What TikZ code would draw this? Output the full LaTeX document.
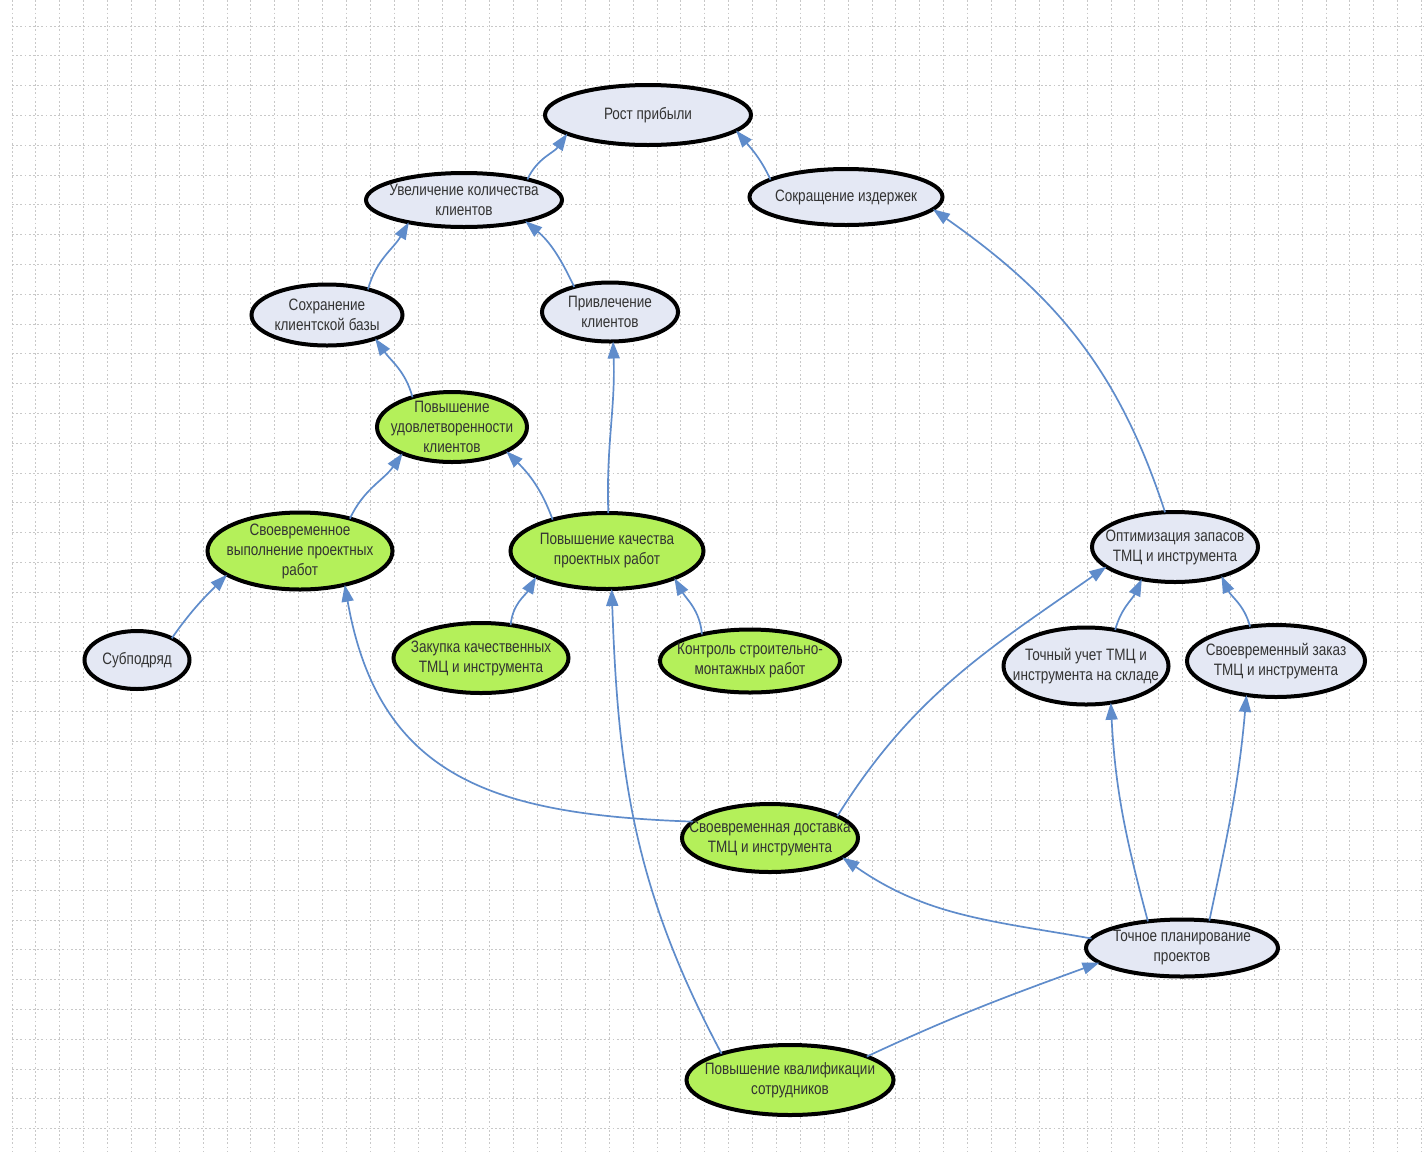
\documentclass[tikz,border=0pt]{standalone}
\usepackage{fontspec}
\setmainfont{Liberation Sans}[FakeStretch=0.82]
\usetikzlibrary{shapes.geometric,arrows.meta}

\definecolor{nodeblue}{HTML}{E4E8F4}
\definecolor{nodegreen}{HTML}{B4F05A}
\definecolor{linkblue}{HTML}{5F8CCB}
\definecolor{gridgray}{HTML}{C8C8C8}
\definecolor{txtgray}{HTML}{333333}

\tikzset{
  gridline/.style={draw=gridgray, line width=0.9pt, dash pattern=on 1.8pt off 2.4pt},
  goal/.style={ellipse, draw=black, line width=4pt, inner sep=0pt, outer sep=0pt},
  bluegoal/.style={goal, fill=nodeblue},
  greengoal/.style={goal, fill=nodegreen},
  txt/.style={align=center, text=txtgray, font=\fontsize{16.5}{20}\selectfont, inner sep=0pt},
  link/.style={draw=linkblue, line width=1.7pt, -{Triangle[length=17pt,width=12pt]}},
}

\begin{document}
\begin{tikzpicture}[x=1pt,y=1pt,yscale=-1,xscale=1]
\useasboundingbox (0,0) rectangle (1424,1152);

%Grid
\foreach \i in {0,...,59} \draw[gridline] ({12+23.89*\i},0) -- ({12+23.89*\i},1152);
\foreach \j in {0,...,37} \draw[gridline] (12,{26+29.8*\j}) -- (1424,{26+29.8*\j});

%Shape: Ellipse -- top level
\node[bluegoal, minimum width=206pt, minimum height=60pt, label={[txt]center:Рост прибыли}] (rost) at (648,115) {};
\node[bluegoal, minimum width=196pt, minimum height=54pt, label={[txt]center:Увеличение количества\\клиентов}] (uvel) at (464,200) {};
\node[bluegoal, minimum width=193pt, minimum height=56pt, label={[txt]center:Сокращение издержек}] (sokr) at (846,197) {};
\node[bluegoal, minimum width=151pt, minimum height=61pt, label={[txt]center:Сохранение\\клиентской базы}] (sohr) at (327,315) {};
\node[bluegoal, minimum width=136pt, minimum height=59pt, label={[txt]center:Привлечение\\клиентов}] (privl) at (610,312) {};

%Shape: Ellipse -- middle level
\node[greengoal, minimum width=150pt, minimum height=70pt, label={[txt]center:Повышение\\удовлетворенности\\клиентов}] (udovl) at (452,427) {};
\node[greengoal, minimum width=185pt, minimum height=77pt, label={[txt]center:Своевременное\\выполнение проектных\\работ}] (vypoln) at (300,551) {};
\node[greengoal, minimum width=193pt, minimum height=76pt, label={[txt]center:Повышение качества\\проектных работ}] (kach) at (607,551) {};
\node[greengoal, minimum width=175pt, minimum height=70pt, label={[txt]center:Закупка качественных\\ТМЦ и инструмента}] (zakup) at (481,658) {};
\node[greengoal, minimum width=180pt, minimum height=63pt, label={[txt]center:Контроль строительно-\\монтажных работ}] (kontr) at (750,661) {};
\node[bluegoal, minimum width=105pt, minimum height=58pt, label={[txt]center:Субподряд}] (subp) at (137,660) {};

%Shape: Ellipse -- right branch
\node[bluegoal, minimum width=166pt, minimum height=70pt, label={[txt]center:Оптимизация запасов\\ТМЦ и инструмента}] (optim) at (1175,547) {};
\node[bluegoal, minimum width=165pt, minimum height=77pt, label={[txt]center:Точный учет ТМЦ и\\инструмента на складе}] (uchet) at (1086,666) {};
\node[bluegoal, minimum width=178pt, minimum height=72pt, label={[txt]center:Своевременный заказ\\ТМЦ и инструмента}] (zakaz) at (1276,661) {};

%Shape: Ellipse -- bottom level
\node[greengoal, minimum width=176pt, minimum height=68pt, label={[txt]center:Своевременная доставка\\ТМЦ и инструмента}] (dostav) at (770,838) {};
\node[bluegoal, minimum width=192pt, minimum height=57pt, label={[txt]center:Точное планирование\\проектов}] (plan) at (1182,948) {};
\node[greengoal, minimum width=207pt, minimum height=70pt, label={[txt]center:Повышение квалификации\\сотрудников}] (kvalif) at (790,1080) {};

%Curve Lines
\draw[link] (uvel.18) to[out=-65,in=125] (rost.193);
\draw[link] (sokr.167) to[out=-115,in=50] (rost.350);
\draw[link] (sohr.32) to[out=-75,in=120] (uvel.202);
\draw[link] (privl.145) to[out=-115,in=40] (uvel.341);
\draw[link] (udovl.143) to[out=-105,in=55] (sohr.334);
\draw[link] (vypoln.33) to[out=-65,in=125] (udovl.208);
\draw[link] (kach.150) to[out=-110,in=45] (udovl.336);
\draw[link] (kach.88) to[out=-92,in=88] (privl.276);
\draw[link] (subp.32) to[out=-55,in=135] (vypoln.198);
\draw[link] (zakup.48) to[out=-85,in=120] (kach.200);
\draw[link] (kontr.151) to[out=-95,in=60] (kach.338);
\draw[link] (optim.106) to[out=-108,in=35] (sokr.352);
\draw[link] (uchet.51) to[out=-75,in=115] (optim.224);
\draw[link] (zakaz.127) to[out=-105,in=65] (optim.328);
\draw[link] (dostav.18) to[out=-58,in=145] (optim.196);
\draw[link] (dostav.168) to[out=-178,in=80,looseness=1.2] (vypoln.323);
\draw[link] (kvalif.159) to[out=-118,in=88] (kach.277);
\draw[link] (kvalif.17) to[out=-25,in=160] (plan.190);
\draw[link] (plan.174) to[out=-170,in=35] (dostav.345);
\draw[link] (plan.142) to[out=-105,in=87] (uchet.304);
\draw[link] (plan.45) to[out=-78,in=95] (zakaz.229);

\end{tikzpicture}
\end{document}
